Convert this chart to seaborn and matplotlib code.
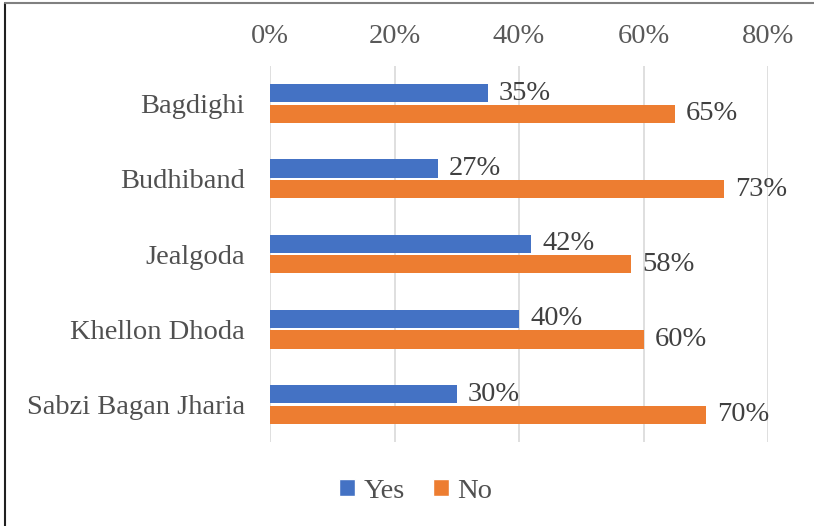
import matplotlib
matplotlib.use("Agg")
import matplotlib.pyplot as plt
from matplotlib.lines import Line2D
from matplotlib.patches import Patch
import seaborn as sns
import pandas as pd

# Survey responses per locality
localities = ["Bagdighi", "Budhiband", "Jealgoda", "Khellon Dhoda", "Sabzi Bagan Jharia"]
yes_share = [0.35, 0.27, 0.42, 0.40, 0.30]
no_share = [0.65, 0.73, 0.58, 0.60, 0.70]
responses = ["Yes", "No"]
x_ticks = [0.0, 0.2, 0.4, 0.6, 0.8]
x_tick_labels = ["0%", "20%", "40%", "60%", "80%"]

colors = {"Yes": "#4472C4", "No": "#ED7D31"}

df = pd.DataFrame({
    "Locality": localities * 2,
    "Response": ["Yes"] * len(localities) + ["No"] * len(localities),
    "Share": yes_share + no_share,
})

sns.set_theme(style="white")
plt.rcParams["font.family"] = ["Liberation Serif", "DejaVu Serif"]

FS = 20.5

fig = plt.figure(figsize=(8.14, 5.26), dpi=100)
ax = fig.add_axes([270 / 814, 1 - 442 / 526, (768 - 270) / 814, (442 - 66) / 526])

sns.barplot(
    data=df, y="Locality", x="Share", hue="Response",
    order=localities, hue_order=responses, palette=colors, saturation=1,
    orient="h", width=0.55, gap=0.12, linewidth=0, ax=ax, legend=False,
)

ax.set_xlim(0, 0.8)
ax.set_xticks(x_ticks)
ax.set_xticklabels(x_tick_labels)
ax.xaxis.tick_top()
ax.set_xlabel("")
ax.set_ylabel("")
ax.tick_params(axis="x", length=0, pad=12, labelsize=FS, labelcolor="#595959")
ax.tick_params(axis="y", length=0, pad=18, labelsize=FS, labelcolor="#505050")
ax.grid(axis="x", color="#d9d9d9", linewidth=1.2)
ax.set_axisbelow(True)
for s in ax.spines.values():
    s.set_visible(False)

for cont in ax.containers:
    ax.bar_label(cont, labels=[f"{v * 100:.0f}%" for v in cont.datavalues],
                 padding=8, fontsize=FS, color="#404040")

handles = [Patch(facecolor=colors[r], label=r) for r in responses]
fig.legend(handles=handles, loc="center", bbox_to_anchor=(416 / 814, 1 - 491 / 526),
           ncol=2, frameon=False, fontsize=FS, handlelength=0.55, handleheight=0.55,
           handletextpad=0.3, columnspacing=1.0, labelcolor="#505050")

# Frame edges along the left and top of the figure
fig.add_artist(Line2D([5 / 814, 5 / 814], [0, 1 - 3 / 526], transform=fig.transFigure,
                      color="#202020", linewidth=1.5))
fig.add_artist(Line2D([5 / 814, 1], [1 - 3 / 526, 1 - 3 / 526], transform=fig.transFigure,
                      color="#808080", linewidth=1.5))

fig.savefig("out.png", dpi=100)
